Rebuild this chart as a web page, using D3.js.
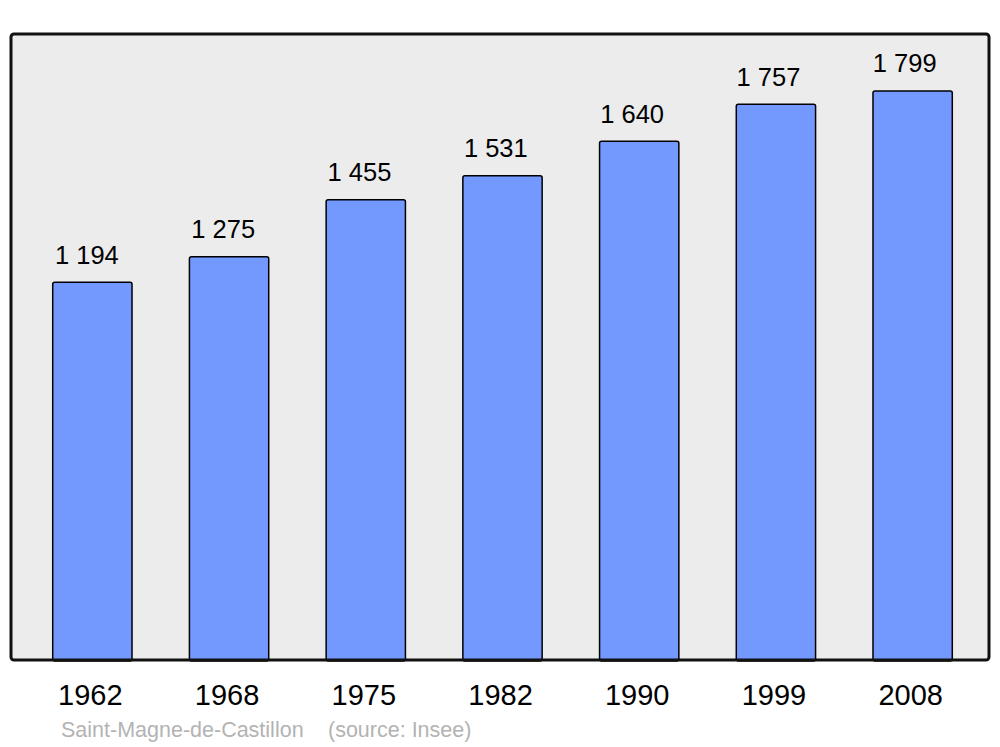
<!DOCTYPE html>
<html>
<head>
<meta charset="utf-8">
<script src="https://d3js.org/d3.v7.min.js"></script>
<style>
  body { margin: 0; background: #fff; }
  text { font-family: "Liberation Sans", Arial, sans-serif; }
</style>
</head>
<body>
<div id="chart"></div>
<script>
// Data
var years = ["1962", "1968", "1975", "1982", "1990", "1999", "2008"];
var population = [1194, 1275, 1455, 1531, 1640, 1757, 1799];
var commune = "Saint-Magne-de-Castillon";
var sourceNote = "(source: Insee)";

// SVG area
var svgWidth = 1000;
var svgHeight = 747;

// Panel box
var panel = { left: 11, top: 34, right: 989, bottom: 660 };

var svg = d3.select("#chart")
  .append("svg")
  .attr("width", svgWidth)
  .attr("height", svgHeight);

// Scales
var x = d3.scaleBand()
  .domain(years)
  .range([24, 981])
  .paddingInner(0.42)
  .paddingOuter(0.21);

var y = d3.scaleLinear()
  .domain([0, d3.max(population) * 1.1])
  .range([panel.bottom, panel.top]);

// Background panel
svg.append("rect")
  .attr("x", panel.left)
  .attr("y", panel.top)
  .attr("width", panel.right - panel.left)
  .attr("height", panel.bottom - panel.top)
  .attr("rx", 3)
  .attr("fill", "#ececec");

// Bars
var rows = years.map((yr, i) => ({ year: yr, value: population[i] }));

svg.append("g")
  .selectAll("rect")
  .data(rows)
  .join("rect")
  .attr("x", d => x(d.year))
  .attr("y", d => y(d.value))
  .attr("width", x.bandwidth())
  .attr("height", d => y(0) - y(d.value) + 1)
  .attr("rx", 2)
  .attr("fill", "#7399ff")
  .attr("stroke", "#000")
  .attr("stroke-width", 1.5);

// Value labels
svg.append("g")
  .selectAll("text")
  .data(rows)
  .join("text")
  .attr("x", (d, i) => x(d.year) + x.bandwidth() / 2 - 5.5 - i * 0.4)
  .attr("y", d => y(d.value) - 18.5)
  .attr("text-anchor", "middle")
  .attr("font-size", 25.5)
  .attr("fill", "#000")
  .text(d => d3.format(",")(d.value).replace(",", " "));

// Panel border drawn on top to cover bar bottoms
svg.append("rect")
  .attr("x", panel.left)
  .attr("y", panel.top)
  .attr("width", panel.right - panel.left)
  .attr("height", panel.bottom - panel.top)
  .attr("rx", 3)
  .attr("fill", "none")
  .attr("stroke", "#111")
  .attr("stroke-width", 3);

// Year axis (labels only)
var xAxis = svg.append("g")
  .attr("transform", `translate(-2, ${panel.bottom})`)
  .call(d3.axisBottom(x).tickSize(0).tickPadding(0));
xAxis.select(".domain").remove();
xAxis.selectAll("text")
  .attr("dy", null)
  .attr("y", 45)
  .attr("font-size", 29)
  .attr("font-family", "'Liberation Sans', Arial, sans-serif")
  .attr("fill", "#000");

// Source line
svg.append("text")
  .attr("x", 61)
  .attr("y", 737)
  .attr("font-size", 21.5)
  .attr("fill", "#b3b3b3")
  .text(commune);
svg.append("text")
  .attr("x", 328)
  .attr("y", 737)
  .attr("font-size", 21.5)
  .attr("fill", "#b3b3b3")
  .text(sourceNote);
</script>
</body>
</html>
